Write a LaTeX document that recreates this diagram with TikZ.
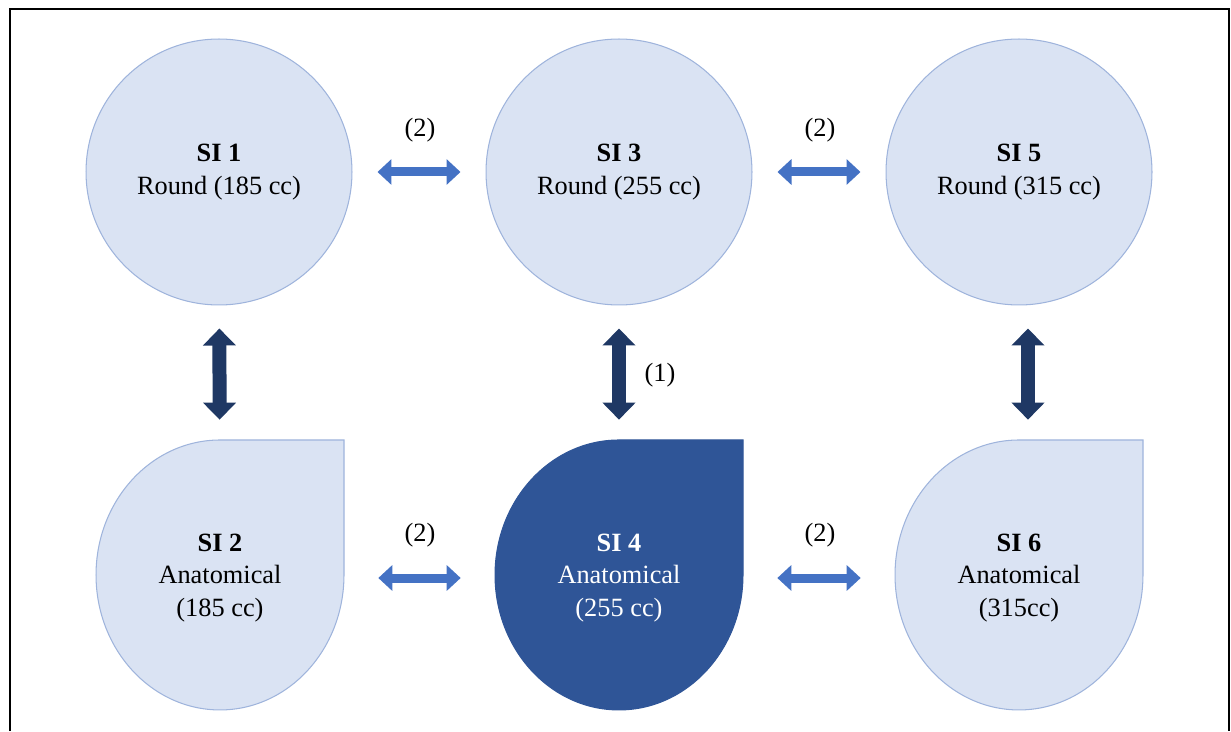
\documentclass[tikz,border=0pt]{standalone}
\usepackage{fontspec}
\setmainfont{Liberation Serif}
\usetikzlibrary{arrows.meta}
\definecolor{lightfill}{HTML}{DAE3F3}
\definecolor{lightline}{HTML}{9FB4DC}
\definecolor{midblue}{HTML}{4472C4}
\definecolor{darkblue}{HTML}{1F3864}
\definecolor{deepblue}{HTML}{2F5597}
\begin{document}
\begin{tikzpicture}
   [x=0.02cm, y=0.02cm,
    txt/.style={align=center, font=\fontsize{15}{18.6}\selectfont},
    round/.style={txt, circle, draw=lightline, fill=lightfill, line width=0.6pt, minimum size=5.32cm},
    anat/.style={txt, minimum width=4.96cm, minimum height=5.4cm, inner sep=0pt},
    lightdrop/.style={draw=lightline, fill=lightfill, line width=0.6pt},
    darkdrop/.style={draw=deepblue, fill=deepblue, line width=0.6pt},
    hswap/.style={line width=0.18cm, midblue, {Triangle[width=0.5cm,length=0.28cm]}-{Triangle[width=0.5cm,length=0.28cm]}, shorten <=#1, shorten >=#1},
    vswap/.style={line width=0.28cm, darkblue, {Triangle[width=0.64cm,length=0.34cm]}-{Triangle[width=0.64cm,length=0.34cm]}, shorten <=0.46cm, shorten >=0.46cm}]
   \useasboundingbox (0,0) rectangle (1231,731);
   \draw[line width=1.1pt] (10,0) -- (10,722) -- (1229,722) -- (1229,0);

   % round implants
   \node[round] (si1) at (219,559) {\textbf{SI 1}\\Round (185 cc)};
   \node[round] (si3) at (619,559) {\textbf{SI 3}\\Round (255 cc)};
   \node[round] (si5) at (1019,559) {\textbf{SI 5}\\Round (315 cc)};

   % anatomical implants
   \draw[lightdrop] (344,156) -- (344,291) -- (220,291) arc[start angle=90, end angle=360, x radius=2.48cm, y radius=2.7cm] -- cycle;
   \draw[darkdrop] (743,156) -- (743,291) -- (619,291) arc[start angle=90, end angle=360, x radius=2.48cm, y radius=2.7cm] -- cycle;
   \draw[lightdrop] (1143,156) -- (1143,291) -- (1019,291) arc[start angle=90, end angle=360, x radius=2.48cm, y radius=2.7cm] -- cycle;
   \node[anat] (si2) at (220,153) {\textbf{SI 2}\\Anatomical\\(185 cc)};
   \node[anat, text=white] (si4) at (619,153) {\textbf{SI 4}\\Anatomical\\(255 cc)};
   \node[anat] (si6) at (1019,153) {\textbf{SI 6}\\Anatomical\\(315cc)};

   % size changes
   \draw[hswap=0.5cm] (si1) -- (si3);
   \draw[hswap=0.5cm] (si3) -- (si5);
   \draw[hswap=0.68cm] (si2) -- (si4);
   \draw[hswap=0.68cm] (si4) -- (si6);
   \node[txt] (l13) at (420,601) {(2)};
   \node[txt] (l35) at (820,601) {(2)};
   \node[txt] (l24) at (420,196) {(2)};
   \node[txt] (l46) at (820,196) {(2)};

   % shape changes
   \draw[vswap] (si1) -- (si2);
   \draw[vswap] (si3) -- (si4);
   \draw[vswap] ([xshift=0.18cm]si5.south) -- ([xshift=0.18cm]si6.north);
   \node[txt] (l34) at (660,356) {(1)};
\end{tikzpicture}
\end{document}
